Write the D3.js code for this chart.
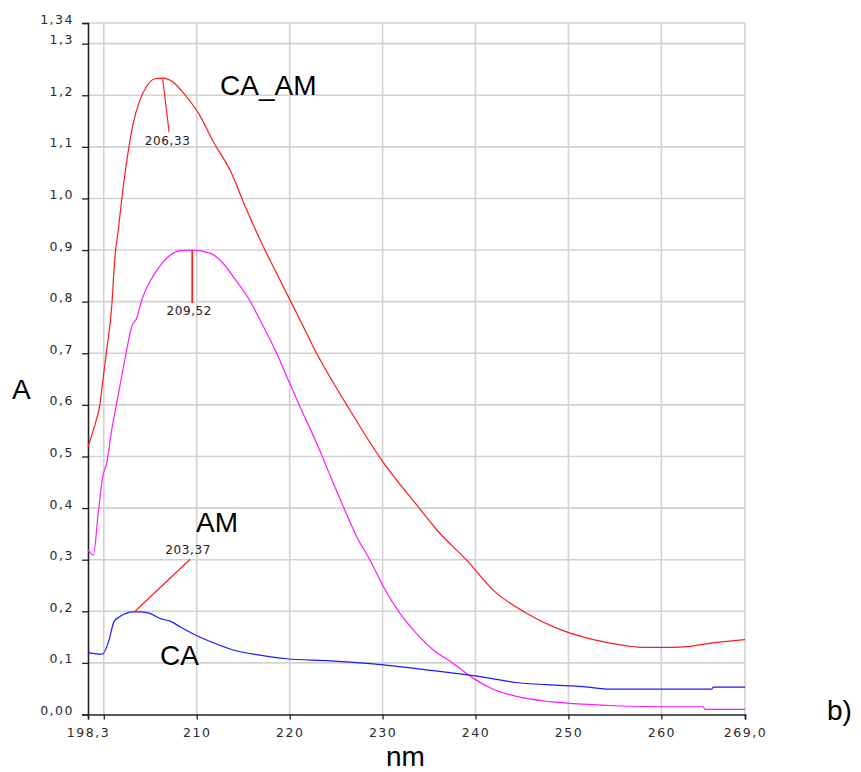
<!DOCTYPE html>
<html>
<head>
<meta charset="utf-8">
<script src="https://cdn.jsdelivr.net/npm/d3@7"></script>
<style>
  body { margin: 0; background: #fff; }
  svg { display: block; }
</style>
</head>
<body>
<div id="chart"></div>
<script>
// spectra: wavelength (nm) and absorbance (A)
const caAmNm = [198.3, 198.87, 199.59, 199.95, 200.31, 200.85, 201.2, 201.56, 201.92, 202.74, 203.17, 203.9, 204.6, 205.5, 206.33, 207.4, 208.4, 209.3, 210.2, 211.78, 213.58, 215.37, 217.16, 218.96, 220.04, 220.75, 222.9, 226.14, 229.9, 233.67, 235.82, 239.05, 241.9, 245.5, 249.5, 252.7, 256.3, 258.06, 260.5, 262.4, 265.2, 269.0];
const caAmA  = [0.519, 0.551, 0.603, 0.655, 0.706, 0.79, 0.887, 0.939, 0.997, 1.104, 1.146, 1.191, 1.217, 1.232, 1.233, 1.226, 1.208, 1.188, 1.165, 1.11, 1.055, 0.978, 0.907, 0.842, 0.803, 0.778, 0.70, 0.60, 0.493, 0.406, 0.358, 0.299, 0.241, 0.196, 0.162, 0.145, 0.133, 0.13, 0.13, 0.131, 0.138, 0.145];

const amNm = [198.3, 198.87, 199.4, 199.88, 200.31, 200.85, 201.39, 201.92, 202.46, 203.0, 203.54, 204.08, 204.97, 205.87, 206.94, 208.2, 209.52, 211.43, 212.86, 213.94, 215.55, 216.8, 218.6, 219.85, 221.1, 222.9, 224.7, 225.77, 227.2, 228.65, 230.08, 231.87, 233.3, 235.46, 237.6, 239.76, 241.9, 244.4, 248.0, 251.6, 255.5, 260.5, 264.5, 264.7, 269.0];
const amA  = [0.319, 0.309, 0.39, 0.461, 0.487, 0.551, 0.603, 0.655, 0.706, 0.752, 0.768, 0.803, 0.839, 0.865, 0.887, 0.899, 0.90, 0.894, 0.874, 0.848, 0.807, 0.765, 0.70, 0.648, 0.597, 0.526, 0.448, 0.403, 0.345, 0.299, 0.248, 0.196, 0.164, 0.125, 0.099, 0.070, 0.049, 0.035, 0.025, 0.020, 0.0165, 0.015, 0.015, 0.010, 0.010];

const caNm = [198.3, 199.85, 200.56, 201.1, 201.74, 203.17, 204.08, 204.97, 206.05, 207.13, 208.2, 209.64, 211.78, 213.94, 216.81, 219.68, 224.34, 229.0, 235.46, 240.0, 244.43, 249.8, 251.6, 254.5, 265.4, 265.6, 269.0];
const caA  = [0.12, 0.117, 0.144, 0.18, 0.19, 0.199, 0.199, 0.196, 0.186, 0.181, 0.17, 0.156, 0.139, 0.125, 0.115, 0.108, 0.104, 0.098, 0.085, 0.075, 0.062, 0.056, 0.054, 0.049, 0.049, 0.053, 0.053];

// peak markers
const peakNm = [206.33, 209.52, 203.37];
const peakA = [1.233, 0.90, 0.20];
const peakLabels = ['206,33', '209,52', '203,37'];

// axis ticks
const xTicks = [198.3, 200, 210, 220, 230, 240, 250, 260, 269.0];
const xTickLabels = ['198,3', '', '210', '220', '230', '240', '250', '260', '269,0'];
const yTicks = [0, 0.1, 0.2, 0.3, 0.4, 0.5, 0.6, 0.7, 0.8, 0.9, 1.0, 1.1, 1.2, 1.3, 1.34];
const yTickLabels = ['0,00', '0,1', '0,2', '0,3', '0,4', '0,5', '0,6', '0,7', '0,8', '0,9', '1,0', '1,1', '1,2', '1,3', '1,34'];

const width = 861, height = 772;
const plot = { left: 88, right: 745, top: 23, bottom: 714.5 };

const svg = d3.select('#chart')
  .append('svg')
    .attr('width', width)
    .attr('height', height)
    .style('background', '#fff');

const x = d3.scaleLinear().domain([198.3, 269.0]).range([plot.left, plot.right]);
const y = d3.scaleLinear().domain([0, 1.34]).range([plot.bottom, plot.top]);

// grid
const grid = svg.append('g').attr('stroke', '#d2d2d2').attr('stroke-width', 1.6);
grid.selectAll('line.v')
  .data(xTicks.slice(1))
  .enter().append('line')
    .attr('x1', d => x(d)).attr('x2', d => x(d))
    .attr('y1', plot.top).attr('y2', plot.bottom);
grid.selectAll('line.h')
  .data(yTicks.slice(1))
  .enter().append('line')
    .attr('x1', plot.left).attr('x2', plot.right)
    .attr('y1', d => y(d)).attr('y2', d => y(d));

const tickFont = '"DejaVu Sans", Verdana, sans-serif';

// axes
const yAxis = svg.append('g')
  .attr('transform', 'translate(' + plot.left + ',0)')
  .call(d3.axisLeft(y).tickValues(yTicks).tickSize(6).tickPadding(8)
    .tickFormat((d, i) => yTickLabels[i]));
const xAxis = svg.append('g')
  .attr('transform', 'translate(0,' + plot.bottom + ')')
  .call(d3.axisBottom(x).tickValues(xTicks).tickSize(5).tickPadding(9)
    .tickFormat((d, i) => xTickLabels[i]));

[yAxis, xAxis].forEach(function(g) {
  g.select('.domain').attr('stroke', '#222').attr('stroke-width', 1.6);
  g.selectAll('.tick line').attr('stroke', '#222').attr('stroke-width', 1.3);
  g.selectAll('.tick text')
    .attr('fill', '#2a2a2a')
    .style('font-family', tickFont)
    .style('font-size', '12.5px')
    .attr('letter-spacing', '1.5px');
});
yAxis.selectAll('.tick text').attr('dy', '0em');
xAxis.selectAll('.tick text').attr('dy', '0.7em');

// spectra
const line = d3.line().curve(d3.curveMonotoneX).x(d => x(d[0])).y(d => y(d[1]));
const series = [
  { nm: caAmNm, a: caAmA, color: '#ff1a1a' },
  { nm: amNm, a: amA, color: '#ff1aff' },
  { nm: caNm, a: caA, color: '#1a1aff' }
];
svg.append('g').selectAll('path')
  .data(series)
  .enter().append('path')
    .attr('d', s => line(d3.zip(s.nm, s.a)))
    .attr('fill', 'none')
    .attr('stroke', s => s.color)
    .attr('stroke-width', 1.2);

// peak leaders and labels
const leaderOffset = [[6.5, 54], [0, 53], [55, -52]];
const labelOffset = [[5, 67], [-3, 65], [53, -57]];
const peaks = svg.append('g');
peakNm.forEach(function(nm, i) {
  const px = x(nm), py = y(peakA[i]);
  peaks.append('line')
    .attr('x1', px).attr('y1', py)
    .attr('x2', px + leaderOffset[i][0]).attr('y2', py + leaderOffset[i][1])
    .attr('stroke', '#ff2020')
    .attr('stroke-width', i === 1 ? 1.8 : 1.2);
  peaks.append('text')
    .attr('x', px + labelOffset[i][0])
    .attr('y', py + labelOffset[i][1])
    .attr('text-anchor', 'middle')
    .attr('fill', '#222')
    .style('font-family', tickFont)
    .style('font-size', '12px')
    .attr('letter-spacing', '0.6px')
    .text(peakLabels[i]);
});

// titles and series names
const big = [
  { text: 'CA_AM', x: 220, y: 95 },
  { text: 'AM', x: 196, y: 532 },
  { text: 'CA', x: 160, y: 665 },
  { text: 'A', x: 12, y: 399 },
  { text: 'b)', x: 827, y: 720 }
];
svg.append('g').selectAll('text')
  .data(big)
  .enter().append('text')
    .attr('x', d => d.x)
    .attr('y', d => d.y)
    .style('font-family', 'Arial, "Liberation Sans", sans-serif')
    .style('font-size', '28px')
    .attr('fill', '#000')
    .text(d => d.text);

svg.append('text')
  .attr('x', (plot.left + plot.right) / 2 - 11)
  .attr('y', 766)
  .attr('text-anchor', 'middle')
  .style('font-family', 'Arial, "Liberation Sans", sans-serif')
  .style('font-size', '28px')
  .text('nm');
</script>
</body>
</html>
